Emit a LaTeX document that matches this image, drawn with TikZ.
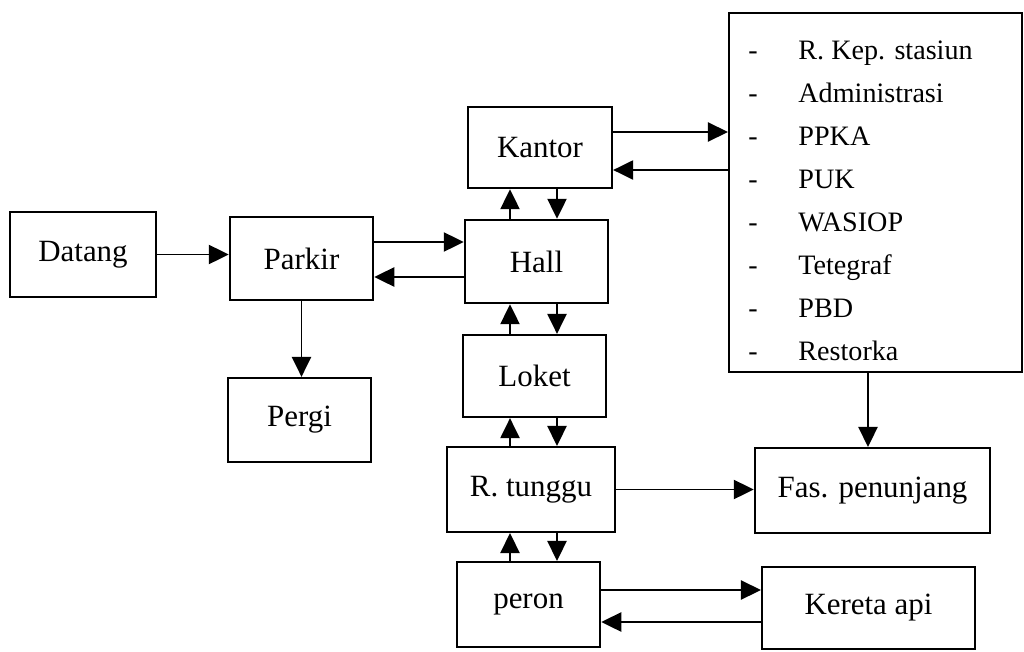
\documentclass[tikz,border=0pt]{standalone}
\usepackage{fontspec}
\setmainfont{Liberation Serif}
\usetikzlibrary{arrows.meta,positioning}

\tikzset{
    kotak/.style={rectangle, draw, line width=1.6pt, inner sep=2pt, font=\fontsize{22}{26}\selectfont},
    panah/.style={line width=1.2pt, -{Triangle[length=0.5cm,width=0.48cm]}},
}

\begin{document}
\begin{tikzpicture}[x=0.025cm, y=-0.025cm]
    \useasboundingbox (0,0) rectangle (1024,651);

    % Main boxes
    \node[kotak, minimum width=3.65cm, minimum height=2.12cm] (datang) at (83,254.5) {Datang};
    \node[kotak, minimum width=3.58cm, minimum height=2.08cm] (parkir) at (301.5,258.5) {Parkir};
    \node[kotak, minimum width=3.58cm, minimum height=2.1cm] (pergi) at (299.5,420) {Pergi};
    \node[kotak, minimum width=3.6cm, minimum height=2.03cm] (kantor) at (540,147.5) {Kantor};
    \node[kotak, minimum width=3.58cm, minimum height=2.08cm] (hall) at (536.5,261.5) {Hall};
    \node[kotak, minimum width=3.58cm, minimum height=2.05cm] (loket) at (534.5,376) {Loket};
    \node[kotak, minimum width=4.2cm, minimum height=2.12cm] (tunggu) at (531,489.5) {R. tunggu};
    \node[kotak, minimum width=3.58cm, minimum height=2.12cm] (peron) at (528.5,604.5) {peron};
    \node[kotak, minimum width=5.88cm, minimum height=2.12cm] (penunjang) at (872.5,490.5) {Fas. penunjang};
    \node[kotak, minimum width=5.32cm, minimum height=2.05cm] (kereta) at (868.5,608) {Kereta api};
    \node[kotak, minimum width=7.32cm, minimum height=8.98cm] (ruang) at (875.5,192.5) {};

    % Office rooms
    \node[anchor=north west, inner sep=0pt, font=\fontsize{20}{30.6}\selectfont] (daftar) at (748,29) {
        \begin{tabular}{@{}l@{\hspace{29pt}}l@{}}
            - & R. Kep. stasiun\\
            - & Administrasi\\
            - & PPKA\\
            - & PUK\\
            - & WASIOP\\
            - & Tetegraf\\
            - & PBD\\
            - & Restorka
        \end{tabular}
    };

    % Rows and columns of the paired arrows
    \coordinate (pa) at (0,242);
    \coordinate (pb) at (0,277);
    \coordinate (ka) at (0,132);
    \coordinate (kb) at (0,170);
    \coordinate (ra) at (0,590);
    \coordinate (rb) at (0,622);
    \coordinate (naik) at (510,0);
    \coordinate (turun) at (557,0);
    \coordinate (fas) at (868,0);

    % Arrows
    \draw[panah] (datang.east) -- (datang.east -| parkir.west);
    \draw[panah] (parkir.south) -- (parkir.south |- pergi.north);
    \draw[panah] (parkir.east |- pa) -- (hall.west |- pa);
    \draw[panah] (hall.west |- pb) -- (parkir.east |- pb);
    \draw[panah] (kantor.east |- ka) -- (ruang.west |- ka);
    \draw[panah] (ruang.west |- kb) -- (kantor.east |- kb);
    \foreach \atas/\bawah in {kantor/hall, hall/loket, loket/tunggu, tunggu/peron} {
        \draw[panah] (\bawah.north -| naik) -- (\atas.south -| naik);
        \draw[panah] (\atas.south -| turun) -- (\bawah.north -| turun);
    }
    \draw[panah] (ruang.south -| fas) -- (penunjang.north -| fas);
    \draw[panah] (tunggu.east) -- (tunggu.east -| penunjang.west);
    \draw[panah] (peron.east |- ra) -- (kereta.west |- ra);
    \draw[panah] (kereta.west |- rb) -- (peron.east |- rb);
\end{tikzpicture}
\end{document}
